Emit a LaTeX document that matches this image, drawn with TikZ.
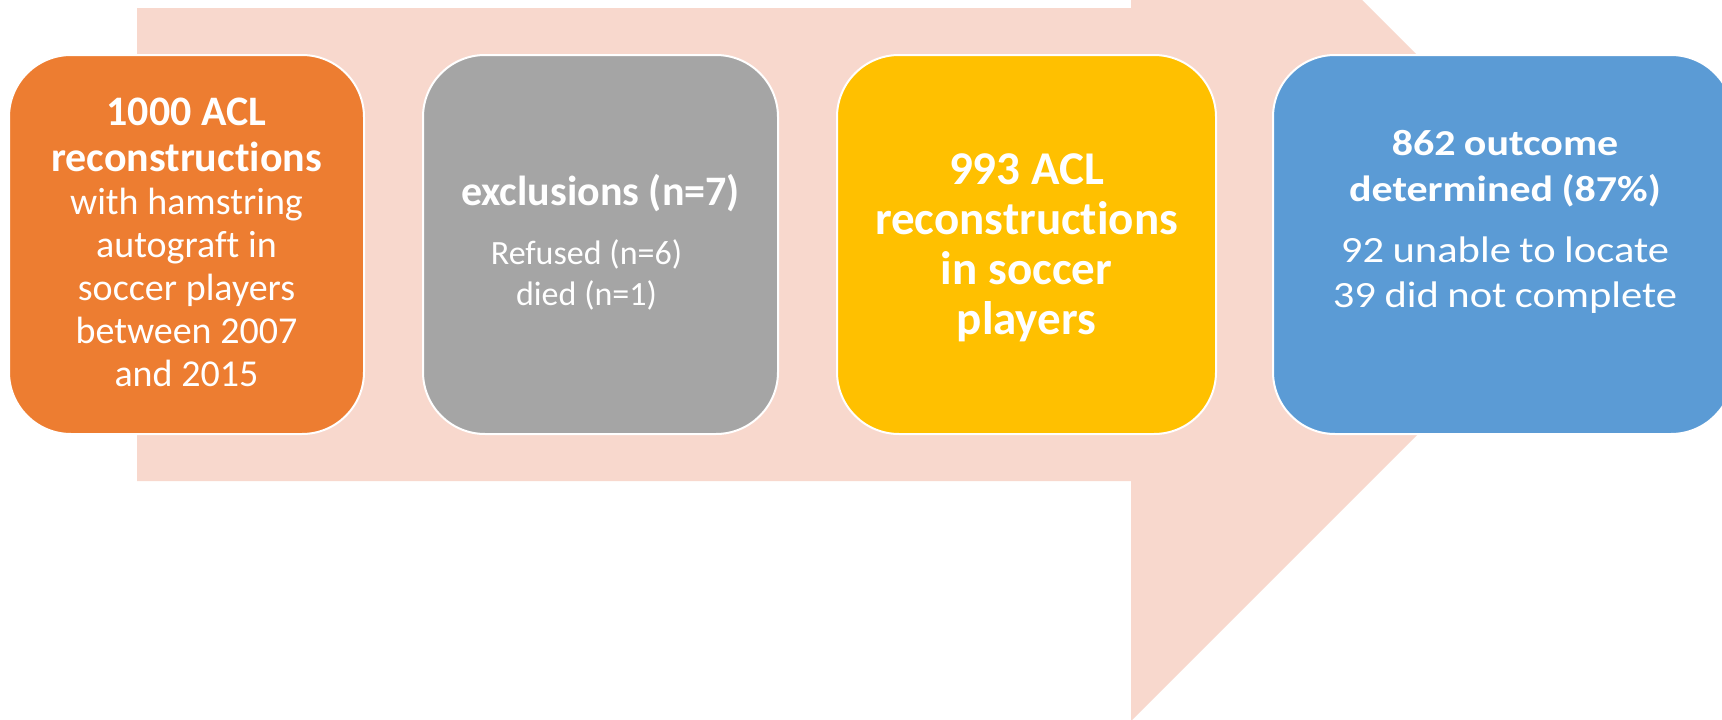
\documentclass[tikz,border=0pt]{standalone}
\usepackage{fontspec}
\setmainfont{Carlito}[Ligatures=NoCommon]
\newfontfamily\widefont{Carlito}[Ligatures=NoCommon, FakeStretch=1.15]
\usetikzlibrary{calc}
\definecolor{arrowfill}{HTML}{F8D8CD}
\definecolor{c1}{HTML}{ED7D31}
\definecolor{c2}{HTML}{A5A5A5}
\definecolor{c3}{HTML}{FFC000}
\definecolor{c4}{HTML}{5B9BD5}
\newcommand\fsz[2]{\fontsize{#1}{#2}\selectfont\spaceskip=0.23em\relax}
\tikzset{
  box/.style={draw=white, line width=2pt, rounded corners=62pt, minimum height=379pt, inner sep=0pt},
  txt/.style={text=white, align=center, inner sep=0pt, text width=440pt},
}
\begin{document}
\begin{tikzpicture}[x=1pt,y=-1pt]
\clip (0,0) rectangle (1722,720);
\fill[white] (0,0) rectangle (1722,720);
% big arrow
\fill[arrowfill] (137,8) -- (1131,8) -- (1131,-231) -- (1607,245) -- (1131,721) -- (1131,481) -- (137,481) -- cycle;
% boxes
\node[box, fill=c1, minimum width=355pt] (b1) at (186.5,244.5) {};
\node[box, fill=c2, minimum width=355pt] (b2) at (600.5,244.5) {};
\node[box, fill=c3, minimum width=379pt] (b3) at (1026.5,244.5) {};
\node[box, fill=c4, minimum width=460pt] (b4) at (1503,244.5) {};
% texts
\node[txt] (t1) at (186.5,242) {{\bfseries\fsz{42}{46}1000 ACL\\ reconstructions\par}%
{\fsz{38}{43}with hamstring\\ autograft in\\ soccer players\\ between 2007\\ and 2015\par}};
\node[txt] (t2) at (600.5,242) {{\bfseries\fsz{42}{46}exclusions (n=7)\par}\vspace{18pt}%
{\fsz{34}{41}\hspace*{-28pt}Refused (n=6)\\ \hspace*{-28pt}died (n=1)\par}};
\node[txt] (t3) at (1026.5,248) {{\bfseries\fsz{47}{50}993 ACL\\ reconstructions\\ in soccer\\ players\par}};
\node[txt] (t4) at (1505,222) {{\widefont\bfseries\fsz{36.5}{46}862 outcome\\ determined (87\%)\par}\vspace{16pt}%
{\widefont\fsz{37}{45}92 unable to locate\\ 39 did not complete\par}};
\end{tikzpicture}
\end{document}
